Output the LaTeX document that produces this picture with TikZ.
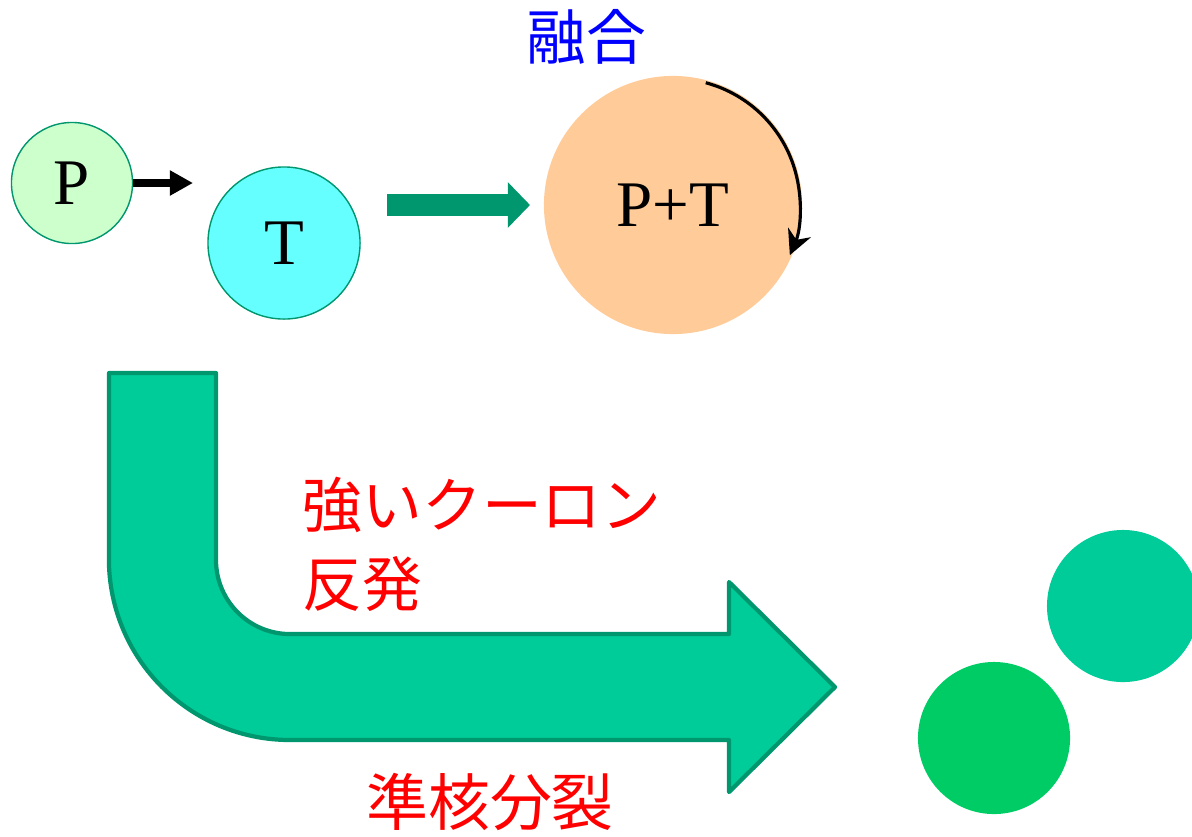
\documentclass[tikz,border=0pt]{standalone}
\usepackage{fontspec}
\setmainfont{Liberation Serif}
\newfontfamily\jp{Noto Sans CJK JP}
\usepackage{tikz}
\usetikzlibrary{arrows.meta,calc}

\definecolor{pgreen}{HTML}{CCFFCC}
\definecolor{tcyan}{HTML}{66FFFF}
\definecolor{cpeach}{HTML}{FFCC99}
\definecolor{edgeteal}{HTML}{00966E}
\definecolor{bodyteal}{HTML}{00CC99}
\definecolor{fraggreen}{HTML}{00CC66}

\tikzset{
  nucleus/.style={circle, inner sep=0pt, font=\fontsize{18.5}{20}\selectfont},
  label jp/.style={font=\jp\fontsize{17}{22.5}\selectfont, inner sep=0pt}
}

\begin{document}
\begin{tikzpicture}[x=0.01cm, y=-0.01cm]
\useasboundingbox (0,0) rectangle (1192,836);
% projectile, target, compound nucleus
\node[nucleus, draw=edgeteal, line width=0.4pt, fill=pgreen, minimum size=1.21cm] (P) at (72,183) {P};
\node[nucleus, draw=edgeteal, line width=0.4pt, fill=tcyan, minimum size=1.52cm] (T) at (284,243) {T};
\node[nucleus, fill=cpeach, minimum size=2.58cm] (PT) at (673,205) {P+T};
\node[label jp, text=blue] (fusion) at (586,37) {融合};
\coordinate (Pend) at (193,183);
\coordinate (Fa) at (387,205);
\coordinate (Fb) at (530,205);
\draw[line width=2.3pt, -{Triangle[length=6.6pt, width=6.8pt]}] (P.east) -- (Pend);
\draw[edgeteal, line width=6pt, -{Triangle[length=6.3pt, width=12.6pt]}] (Fa) -- (Fb);
% rotation of the compound nucleus
\draw[line width=0.9pt, -{Stealth[length=7pt, width=7pt]}]
  ($(PT.center)+(75:1.265cm)$) arc[start angle=75, end angle=-23, radius=1.27cm];
% quasi-fission path
\draw[edgeteal, fill=bodyteal, line width=1.2pt, line join=round]
  (109,373) -- (216,373) -- (216,560)
  arc[start angle=180, end angle=270, radius=0.74cm]
  -- (729,634) -- (729,582) -- (835,687) -- (729,792) -- (729,740) -- (290,740)
  arc[start angle=270, end angle=180, radius=1.81cm] -- cycle;
\node[label jp, text=red, align=left, anchor=north west] (coulomb) at (302,476) {強いクーロン\\反発};
\node[label jp, text=red, font=\jp\fontsize{17.6}{20}\selectfont] (qf) at (490,802) {準核分裂};
% fragments
\node[circle, fill=bodyteal, minimum size=1.52cm, inner sep=0pt] (fragA) at (1123,606) {};
\node[circle, fill=fraggreen, minimum size=1.52cm, inner sep=0pt] (fragB) at (994,738) {};
\end{tikzpicture}
\end{document}
